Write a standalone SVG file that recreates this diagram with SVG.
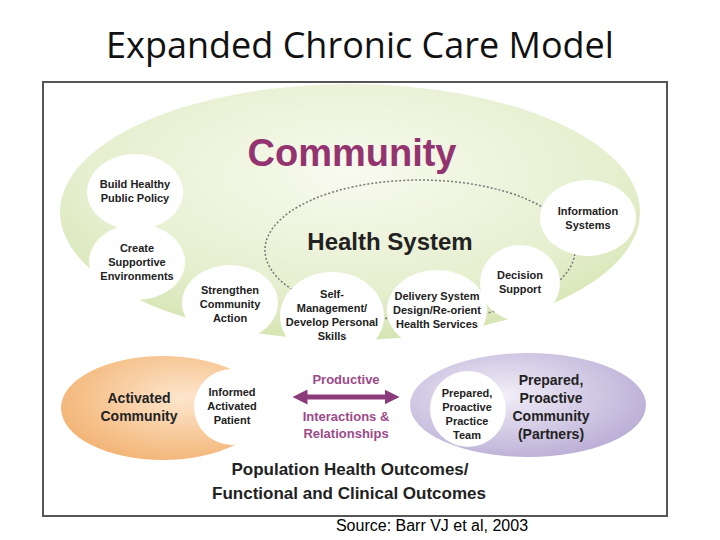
<svg xmlns="http://www.w3.org/2000/svg" width="720" height="540" viewBox="0 0 720 540">
<defs>
<radialGradient id="g" cx="0.5" cy="0.35" r="0.65"><stop offset="0" stop-color="#f8faef"/><stop offset="0.7" stop-color="#e6efcf"/><stop offset="1" stop-color="#d6e5b3"/></radialGradient>
<radialGradient id="o" cx="0.6" cy="0.4" r="0.7"><stop offset="0" stop-color="#fde6cc"/><stop offset="1" stop-color="#f2b06e"/></radialGradient>
<radialGradient id="p" cx="0.4" cy="0.4" r="0.7"><stop offset="0" stop-color="#f1eef8"/><stop offset="1" stop-color="#b6a9d3"/></radialGradient>
<marker id="ah" viewBox="0 0 10 10" refX="5" refY="5" markerWidth="3" markerHeight="3" orient="auto-start-reverse"><path d="M0,0L10,5L0,10z" fill="#8b3a7a"/></marker>
<style>
.t{font-family:"Liberation Sans",Arial,sans-serif;font-weight:bold;fill:#222;text-anchor:middle}
.s{font-size:11px}
.c{fill:#fff}
</style>
</defs>
<rect width="720" height="540" fill="#fff"/>
<text x="360" y="58" font-family="'Open Sans',Calibri,sans-serif" font-size="36" text-anchor="middle" fill="#111">Expanded Chronic Care Model</text>
<rect x="43" y="82" width="624" height="434" fill="#fff" stroke="#555" stroke-width="2"/>
<g id="community"><ellipse cx="350" cy="212" rx="290" ry="128" fill="url(#g)"/>
<text class="t" x="352" y="166" font-size="38" style="fill:#93336f">Community</text></g>
<g id="connectors"><ellipse cx="420" cy="250" rx="155" ry="70" fill="none" stroke="#777" stroke-width="1.5" stroke-dasharray="2,2"/>
<line x1="300" y1="397" x2="392" y2="397" stroke="#8b3a7a" stroke-width="5" marker-start="url(#ah)" marker-end="url(#ah)"/></g>
<g id="health"><text class="t" x="390" y="250" font-size="24">Health System</text></g>
<g id="n1"><ellipse class="c" cx="135" cy="192" rx="48" ry="38"/><text class="t s" x="135" y="188">Build Healthy<tspan x="135" dy="14">Public Policy</tspan></text></g>
<g id="n2"><ellipse class="c" cx="137" cy="262" rx="48" ry="38"/><text class="t s" x="137" y="252">Create<tspan x="137" dy="14">Supportive</tspan><tspan x="137" dy="14">Environments</tspan></text></g>
<g id="n3"><ellipse class="c" cx="230" cy="303" rx="48" ry="38"/><text class="t s" x="230" y="294">Strengthen<tspan x="230" dy="14">Community</tspan><tspan x="230" dy="14">Action</tspan></text></g>
<g id="n4"><ellipse class="c" cx="332" cy="316" rx="52" ry="44"/><text class="t s" x="332" y="298">Self-<tspan x="332" dy="14">Management/</tspan><tspan x="332" dy="14">Develop Personal</tspan><tspan x="332" dy="14">Skills</tspan></text></g>
<g id="n5"><ellipse class="c" cx="437" cy="310" rx="50" ry="40"/><text class="t s" x="437" y="300">Delivery System<tspan x="437" dy="14">Design/Re-orient</tspan><tspan x="437" dy="14">Health Services</tspan></text></g>
<g id="n6"><ellipse class="c" cx="520" cy="283" rx="40" ry="38"/><text class="t s" x="520" y="279">Decision<tspan x="520" dy="14">Support</tspan></text></g>
<g id="n7"><ellipse class="c" cx="588" cy="218" rx="48" ry="38"/><text class="t s" x="588" y="215">Information<tspan x="588" dy="14">Systems</tspan></text></g>
<g id="activated"><ellipse cx="163" cy="408" rx="102" ry="52" fill="url(#o)"/><text class="t" font-size="14" x="139" y="403">Activated<tspan x="139" dy="18">Community</tspan></text>
<circle class="c" cx="232" cy="407" r="38"/><text class="t s" x="232" y="396">Informed<tspan x="232" dy="14">Activated</tspan><tspan x="232" dy="14">Patient</tspan></text></g>
<g id="prod"><text class="t" font-size="13" x="346" y="384" style="fill:#9b4a8a">Productive</text>
<text class="t" font-size="13" x="346" y="421" style="fill:#9b4a8a">Interactions &amp;<tspan x="346" dy="17">Relationships</tspan></text></g>
<g id="prepared"><ellipse cx="528" cy="405" rx="118" ry="52" fill="url(#p)"/><circle class="c" cx="468" cy="409" r="38"/>
<text class="t s" x="467" y="397">Prepared,<tspan x="467" dy="14">Proactive</tspan><tspan x="467" dy="14">Practice</tspan><tspan x="467" dy="14">Team</tspan></text>
<text class="t" font-size="14" x="551" y="385">Prepared,<tspan x="551" dy="18">Proactive</tspan><tspan x="551" dy="18">Community</tspan><tspan x="551" dy="18">(Partners)</tspan></text></g>
<g id="outcomes"><text class="t" font-size="17" x="350" y="475">Population Health Outcomes/<tspan x="349" dy="24">Functional and Clinical Outcomes</tspan></text></g>
<text x="432" y="531" font-family="'Liberation Sans',Arial,sans-serif" font-size="16" text-anchor="middle" fill="#000">Source: Barr VJ et al, 2003</text>
</svg>
